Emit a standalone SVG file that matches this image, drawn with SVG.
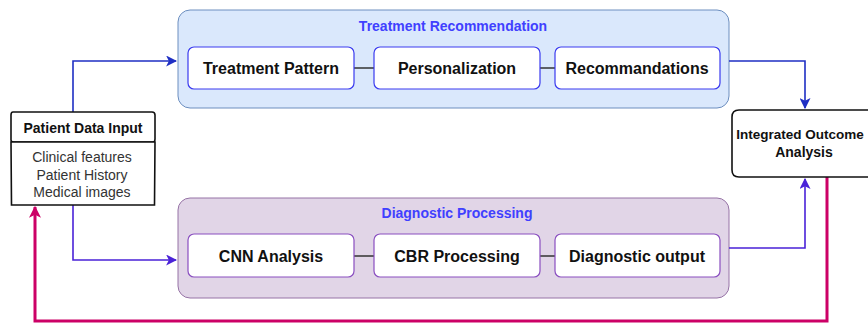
<svg xmlns="http://www.w3.org/2000/svg" width="868" height="323" viewBox="0 0 868 323">
<style>
.t{font-family:"Liberation Sans",Arial,sans-serif;text-anchor:middle;dominant-baseline:central}
.lbl{font-size:16px;font-weight:bold;fill:#111}
.ttl{font-size:14px;font-weight:bold;fill:#4040ff}
.sk{fill:#fff;stroke:#111;stroke-width:1.6}
.inT{fill:#fff;stroke:#3a3aef;stroke-width:1.2}
.inD{fill:#fff;stroke:#8a4fc0;stroke-width:1.2}
.lnk{stroke:#333;stroke-width:1.3;fill:none}
</style>
<defs>
<marker id="aP" viewBox="0 0 10 10" refX="9" refY="5" markerWidth="11" markerHeight="11" orient="auto" markerUnits="userSpaceOnUse"><path d="M0,0 L10,5 L0,10 L2.5,5 Z" fill="#4a22d8"/></marker>
<marker id="aM" viewBox="0 0 10 10" refX="9" refY="5" markerWidth="12" markerHeight="12" orient="auto" markerUnits="userSpaceOnUse"><path d="M0,0 L10,5 L0,10 L2.5,5 Z" fill="#cc0066"/></marker>
<marker id="aB2" viewBox="0 0 10 10" refX="9" refY="5" markerWidth="11" markerHeight="11" orient="auto" markerUnits="userSpaceOnUse"><path d="M0,0 L10,5 L0,10 L2.5,5 Z" fill="#1f2fc4"/></marker>
</defs>

<g id="treatment-recommendation">
<rect x="178" y="10" width="551" height="98" rx="12" fill="#dae8fc" stroke="#6c8ebf" stroke-width="1"/>
<text class="t ttl" x="453" y="26">Treatment Recommendation</text>
</g>
<g id="diagnostic-processing">
<rect x="178" y="198" width="551" height="100" rx="12" fill="#e1d5e7" stroke="#9673a6" stroke-width="1"/>
<text class="t ttl" x="457" y="213">Diagnostic Processing</text>
</g>

<g id="connectors">
<path class="lnk" d="M354,68 H374 M540,68 H555"/>
<path class="lnk" d="M354,256 H374 M540,256 H555" stroke="#555"/>
<path d="M73,112 V61 H176" fill="none" stroke="#1f2fc4" stroke-width="1.6" marker-end="url(#aB2)"/>
<path d="M73,205 V260 H176" fill="none" stroke="#4a22d8" stroke-width="1.6" marker-end="url(#aP)"/>
<path d="M729,61 H805 V108" fill="none" stroke="#1f2fc4" stroke-width="1.6" marker-end="url(#aB2)"/>
<path d="M729,248 H805 V179" fill="none" stroke="#4a22d8" stroke-width="1.6" marker-end="url(#aP)"/>
<path d="M827,177 V321 H35 V207" fill="none" stroke="#cc0066" stroke-width="3" marker-end="url(#aM)"/>
</g>

<g id="treatment-pattern"><rect class="inT" x="188" y="47" width="166" height="42" rx="6"/><text class="t lbl" x="271" y="68">Treatment Pattern</text></g>
<g id="personalization"><rect class="inT" x="374" y="47" width="166" height="42" rx="6"/><text class="t lbl" x="457" y="68">Personalization</text></g>
<g id="recommandations"><rect class="inT" x="555" y="47" width="165" height="42" rx="6"/><text class="t lbl" x="637" y="68">Recommandations</text></g>

<g id="cnn-analysis"><rect class="inD" x="188" y="234" width="166" height="43" rx="6"/><text class="t lbl" x="271" y="256">CNN Analysis</text></g>
<g id="cbr-processing"><rect class="inD" x="374" y="234" width="166" height="43" rx="6"/><text class="t lbl" x="457" y="256">CBR Processing</text></g>
<g id="diagnostic-output"><rect class="inD" x="555" y="234" width="165" height="43" rx="6"/><text class="t lbl" x="637" y="256">Diagnostic output</text></g>

<g id="patient-data-input">
<path class="sk" d="M13,112 Q11,112 11,115 L11,140 Q11,142 14,142 L153,142 Q155,142 155,139 L155,115 Q155,112 152,112 Z"/>
<text class="t" x="83" y="128" style="font-size:14px;font-weight:bold;fill:#111">Patient Data Input</text>
<path class="sk" d="M11,142 L155,142 L154.5,205 L11.5,205 Z"/>
<text class="t" x="82" y="157" style="font-size:14px;fill:#333">Clinical features</text>
<text class="t" x="82" y="175" style="font-size:14px;fill:#333">Patient History</text>
<text class="t" x="82" y="192" style="font-size:14px;fill:#333">Medical images</text>
</g>

<g id="integrated-outcome-analysis">
<path class="sk" d="M739,110 L880,110 L880,177 L739,177 Q732,177 732,170 L732,117 Q732,110 739,110 Z"/>
<text class="t" x="800" y="134" style="font-size:13.5px;font-weight:bold;fill:#111">Integrated Outcome</text>
<text class="t" x="804" y="152" style="font-size:14px;font-weight:bold;fill:#111">Analysis</text>
</g>
</svg>
